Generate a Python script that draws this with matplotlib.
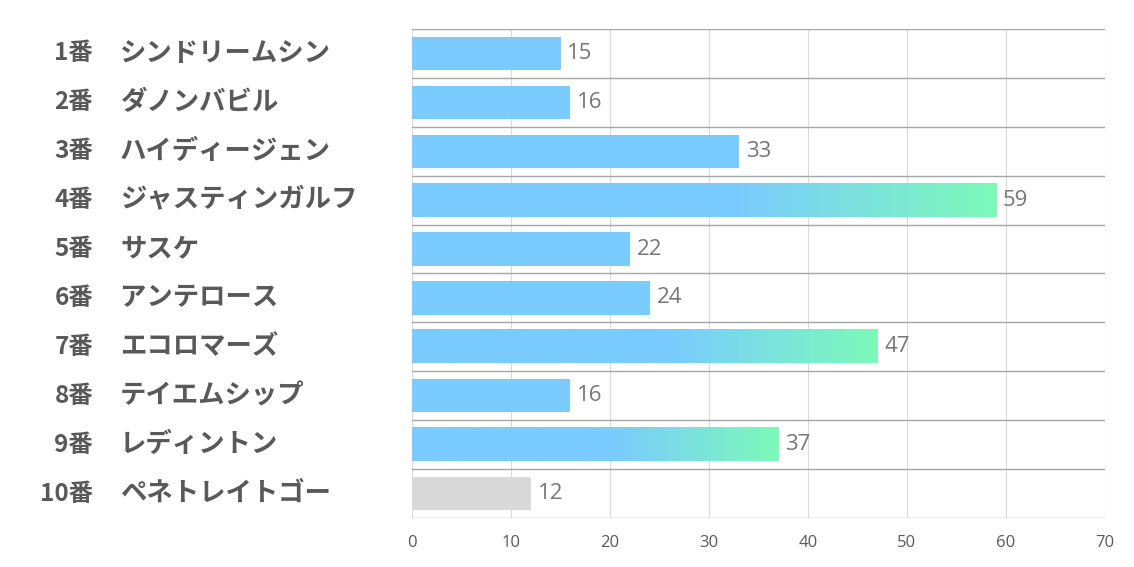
import numpy as np
import matplotlib
matplotlib.use("Agg")
import matplotlib.pyplot as plt
from matplotlib.colors import LinearSegmentedColormap

numbers = ["1番", "2番", "3番", "4番", "5番", "6番", "7番", "8番", "9番", "10番"]
names = ["シンドリームシン", "ダノンバビル", "ハイディージェン", "ジャスティンガルフ", "サスケ",
         "アンテロース", "エコロマーズ", "テイエムシップ", "レディントン", "ペネトレイトゴー"]
values = [15, 16, 33, 59, 22, 24, 47, 16, 37, 12]
styles = ["blue", "blue", "blue", "grad", "blue", "blue", "grad", "blue", "grad", "gray"]
xticks = [0, 10, 20, 30, 40, 50, 60, 70]

BLUE = "#7ACBFF"
GREEN = "#7DFAB9"
GRAY = "#D9D9D9"
TXT = "#595959"
VAL = "#767676"

plt.rcParams['font.family'] = ['Noto Sans CJK JP', 'DejaVu Sans']

fig = plt.figure(figsize=(11.34, 5.67), dpi=100)
ax = fig.add_axes([412/1134, 1-518/567, (1105-412)/1134, (518-29)/567])

n = len(values)
ax.set_xlim(0, 70)
ax.set_ylim(n - 0.5, -0.5)
bh = 0.68

cmap = LinearSegmentedColormap.from_list("g", [(0, BLUE), (0.55, BLUE), (1.0, GREEN)])
grad = np.linspace(0, 1, 256).reshape(1, -1)

for i, (v, s) in enumerate(zip(values, styles)):
    if s == "grad":
        ax.imshow(grad, cmap=cmap, aspect='auto', extent=(0, v, i + bh/2, i - bh/2),
                  interpolation='bilinear', zorder=2)
    else:
        ax.barh(i, v, height=bh, color=GRAY if s == "gray" else BLUE, zorder=2)
    ax.text(v + 0.7, i, str(v), va='center', ha='left', fontsize=16, color=VAL,
            family=['Open Sans', 'DejaVu Sans'], zorder=3)

for b in np.arange(-0.5, n, 1.0):
    ax.axhline(b, color="#A6A6A6", lw=1.0, zorder=1)
for x in xticks:
    ax.axvline(x, color="#D9D9D9", lw=0.8, zorder=0)

for sp in ax.spines.values():
    sp.set_visible(False)
ax.set_xticks(xticks)
ax.set_xticklabels([str(t) for t in xticks], fontsize=12, color=TXT,
                   family=['Open Sans', 'DejaVu Sans'])
ax.tick_params(axis='x', length=0, pad=12)
ax.set_yticks([])

for i, (num, nm) in enumerate(zip(numbers, names)):
    ya = ax.transData.transform((0, i))[1]
    yf = ya / fig.bbox.height
    fig.text(93/1134, yf, num, ha='right', va='center', fontsize=17.5, fontweight='bold', color=TXT)
    fig.text(120/1134, yf, nm, ha='left', va='center', fontsize=19, fontweight='bold', color=TXT)

fig.savefig("out.png", dpi=100)
